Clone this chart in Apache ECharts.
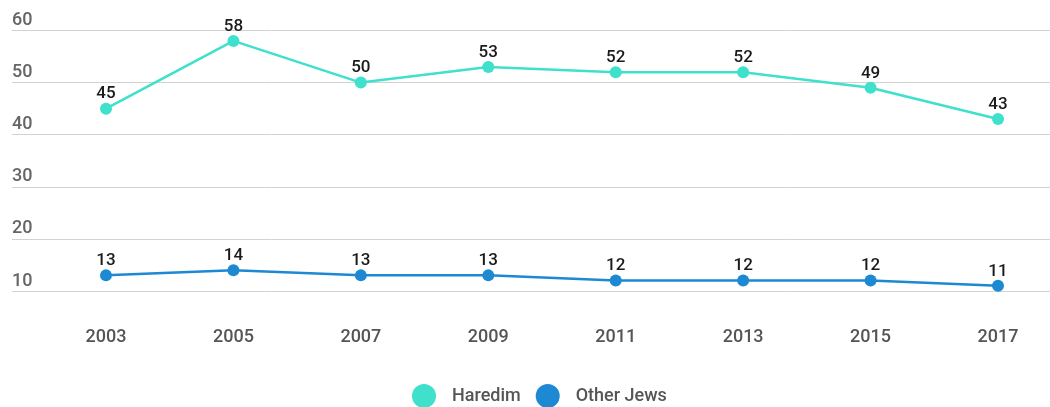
<!DOCTYPE html>
<html>
<head>
<meta charset="utf-8">
<script src="https://cdn.jsdelivr.net/npm/echarts@6/dist/echarts.min.js"></script>
<style>
html,body{margin:0;padding:0;background:#fff;}
#chart{width:1050px;height:407px;}
</style>
</head>
<body>
<div id="chart"></div>
<script>
const years = ['2003','2005','2007','2009','2011','2013','2015','2017'];
const haredim = [45, 58, 50, 53, 52, 52, 49, 43];
const otherJews = [13, 14, 13, 13, 12, 12, 12, 11];
const yMin = 10, yMax = 60, yStep = 10;

const chart = echarts.init(document.getElementById('chart'));
const labelStyle = {show: true, position: 'top', distance: 0, color: '#1a1a1a', fontFamily: 'Roboto', fontSize: 17, fontWeight: 500};
chart.setOption({
  animation: false,
  grid: [
    {left: 12, right: 0, top: 30.5, bottom: 116},
    {left: 106, right: 52, top: 30.5, bottom: 116}
  ],
  legend: {
    top: 379, left: 407,
    itemWidth: 24, itemHeight: 24, itemGap: 15,
    icon: 'circle',
    textStyle: {color: '#555', fontFamily: 'Roboto', fontSize: 18, fontWeight: 500, padding: [0, 0, 0, 11]},
    data: ['Haredim', 'Other Jews']
  },
  xAxis: [
    {gridIndex: 0, type: 'value', show: false, min: 0, max: 1},
    {gridIndex: 1, type: 'category', data: years, boundaryGap: false,
     axisLine: {show: false}, axisTick: {show: false},
     axisLabel: {color: '#555', fontFamily: 'Roboto', fontSize: 18, fontWeight: 500, margin: 37}}
  ],
  yAxis: [
    {gridIndex: 0, type: 'value', min: yMin, max: yMax, interval: yStep,
     axisLine: {show: false}, axisTick: {show: false},
     splitLine: {lineStyle: {color: '#d2d2d2', width: 1}},
     axisLabel: {inside: true, margin: 0, verticalAlign: 'bottom', padding: [0,0,1,0], color: '#666', fontFamily: 'Roboto', fontSize: 18, fontWeight: 500}},
    {gridIndex: 1, type: 'value', min: yMin, max: yMax, interval: yStep, show: false}
  ],
  series: [
    {name: 'Haredim', type: 'line', xAxisIndex: 1, yAxisIndex: 1, data: haredim,
     symbol: 'circle', symbolSize: 12, color: '#3fe0cc',
     lineStyle: {width: 2.5}, label: labelStyle},
    {name: 'Other Jews', type: 'line', xAxisIndex: 1, yAxisIndex: 1, data: otherJews,
     symbol: 'circle', symbolSize: 12, color: '#1d89d3',
     lineStyle: {width: 2.5}, label: labelStyle}
  ]
});
</script>
</body>
</html>
